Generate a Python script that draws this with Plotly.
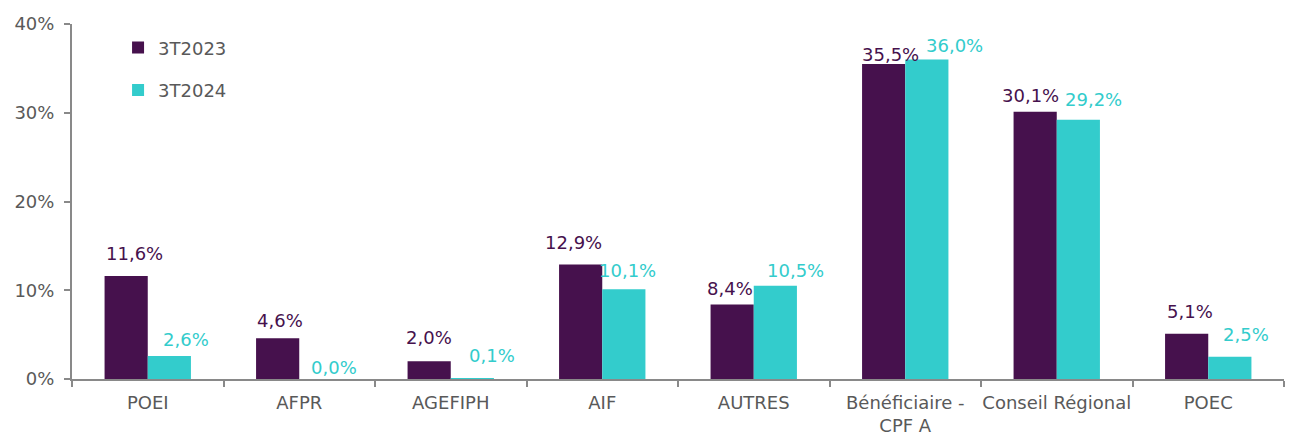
import plotly.graph_objects as go

categories = ["POEI", "AFPR", "AGEFIPH", "AIF", "AUTRES", "Bénéficiaire -<br>CPF A", "Conseil Régional", "POEC"]
series_names = ["3T2023", "3T2024"]
values_2023 = [11.6, 4.6, 2.0, 12.9, 8.4, 35.5, 30.1, 5.1]
values_2024 = [2.6, 0.0, 0.1, 10.1, 10.5, 36.0, 29.2, 2.5]
y_ticks = [0, 10, 20, 30, 40]
y_ticktext = ["0%", "10%", "20%", "30%", "40%"]

# styling: manual nudges of the data labels (pixels), as placed in the original
label_dx = [[8, 2, 0, -7, -2, 7, -5, 3],
            [17, 13, 20, 4, 20, 28, 15, 16]]
label_gap = [[15, 10, 16, 15, 8, 2, 9, 15],
             [9, 4, 15, 11, 8, 7, 13, 15]]

colors = ["#46114D", "#33CCCC"]
FONT = "DejaVu Sans"
FS = 18

def fmt(v):
    return f"{v:.1f}".replace(".", ",") + "%"

W, H = 1287, 424
ML, MR, MT, MB = 64, 11, 16, 53

fig = go.Figure()
all_vals = [values_2023, values_2024]
for i, (name, vals) in enumerate(zip(series_names, all_vals)):
    fig.add_trace(go.Bar(
        x=categories, y=vals, name=name,
        marker=dict(color=colors[i], line=dict(width=0)),
        legendgroup=name,
    ))

plot_w = W - ML - MR
bargap = 0.43
bar_w = plot_w / len(categories) * (1 - bargap) / 2
for i, vals in enumerate(all_vals):
    offset = (-bar_w / 2) if i == 0 else (bar_w / 2)
    for k, (c, v) in enumerate(zip(categories, vals)):
        fig.add_annotation(
            x=c, y=v, text=fmt(v), showarrow=False,
            xanchor="center", yanchor="bottom",
            xshift=offset + label_dx[i][k], yshift=label_gap[i][k] - 5,
            font=dict(color=colors[i], size=FS, family=FONT),
        )

fig.update_layout(
    width=W, height=H,
    margin=dict(l=ML, r=MR, t=MT, b=MB),
    paper_bgcolor="white", plot_bgcolor="white",
    barmode="group", bargap=bargap, bargroupgap=0,
    font=dict(family=FONT, size=FS, color="#595959"),
    showlegend=True,
    legend=dict(x=0.038, y=0.985, xanchor="left", yanchor="top",
                font=dict(size=FS, color="#595959"),
                tracegroupgap=16, bgcolor="rgba(0,0,0,0)"),
)
fig.update_xaxes(
    showline=True, linecolor="#898989", linewidth=2,
    ticks="outside", tickson="boundaries", ticklen=6, tickcolor="#898989", tickwidth=2,
    tickfont=dict(size=FS, color="#595959", family=FONT), tickangle=0,
    showgrid=False, automargin=False, ticklabelstandoff=6,
)
fig.update_yaxes(
    range=[0, 40], tickvals=y_ticks, ticktext=y_ticktext,
    showline=True, linecolor="#898989", linewidth=2,
    ticks="outside", ticklen=6, tickcolor="#898989", tickwidth=2,
    tickfont=dict(size=FS, color="#595959", family=FONT),
    showgrid=False, zeroline=False, automargin=False, ticklabelstandoff=6,
)

fig.write_html("out.html")
